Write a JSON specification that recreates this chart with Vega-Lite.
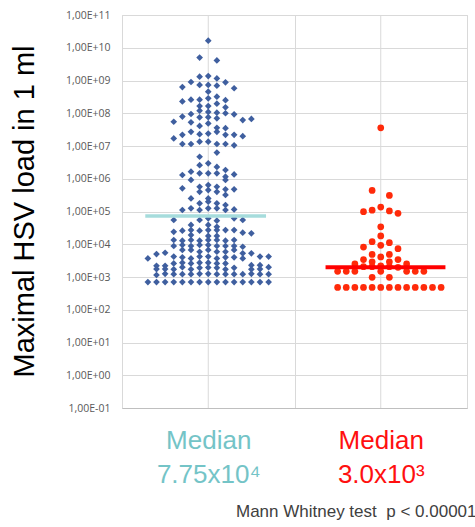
{
  "$schema": "https://vega.github.io/schema/vega-lite/v6.json",
  "autosize": "none",
  "width": 345,
  "height": 393,
  "padding": {"left": 122, "top": 15, "right": 8, "bottom": 119},
  "background": "white",
  "config": {"view": {"stroke": "#d9d9d9"}},
  "datasets": {
    "pts": [
      {"g":"A","s":0,"v":1.64e10},
      {"g":"A","s":-1,"v":5.0e9},{"g":"A","s":1,"v":4.1e9},
      {"g":"A","s":-1,"v":1.31e9},{"g":"A","s":0,"v":1.37e9},{"g":"A","s":1,"v":1.16e9},
      {"g":"A","s":-2,"v":9.0e8},{"g":"A","s":2,"v":8.8e8},
      {"g":"A","s":-3,"v":6.3e8},{"g":"A","s":-1,"v":7.3e8},{"g":"A","s":0,"v":7.3e8},{"g":"A","s":1,"v":6.95e8},{"g":"A","s":3,"v":5.8e8},
      {"g":"A","s":0,"v":4.56e8},
      {"g":"A","s":0,"v":2.86e8},{"g":"A","s":1,"v":3.2e8},
      {"g":"A","s":-3,"v":2.3e8},{"g":"A","s":-2,"v":2.6e8},{"g":"A","s":-1,"v":2.6e8},{"g":"A","s":2,"v":2.5e8},
      {"g":"A","s":-1,"v":1.66e8},{"g":"A","s":0,"v":1.66e8},{"g":"A","s":1,"v":1.96e8},{"g":"A","s":2,"v":1.52e8},
      {"g":"A","s":-2,"v":9.5e7},{"g":"A","s":-1,"v":1.2e8},{"g":"A","s":0,"v":1.1e8},{"g":"A","s":1,"v":1.04e8},{"g":"A","s":2,"v":1.0e8},{"g":"A","s":3,"v":9.3e7},
      {"g":"A","s":-4,"v":5.5e7},{"g":"A","s":-3,"v":7.9e7},{"g":"A","s":-1,"v":7.5e7},{"g":"A","s":0,"v":7.6e7},{"g":"A","s":1,"v":7.0e7},{"g":"A","s":4,"v":6.2e7},{"g":"A","s":5,"v":6.7e7},
      {"g":"A","s":-2,"v":5.3e7},{"g":"A","s":-1,"v":4.1e7},{"g":"A","s":0,"v":4.9e7},{"g":"A","s":1,"v":3.6e7},{"g":"A","s":2,"v":3.5e7},
      {"g":"A","s":-4,"v":1.7e7},{"g":"A","s":-3,"v":2.2e7},{"g":"A","s":-2,"v":2.7e7},{"g":"A","s":-1,"v":2.3e7},{"g":"A","s":0,"v":2.4e7},{"g":"A","s":1,"v":2.7e7},{"g":"A","s":2,"v":2.2e7},{"g":"A","s":3,"v":2.2e7},{"g":"A","s":4,"v":2.0e7},
      {"g":"A","s":-3,"v":1.15e7},{"g":"A","s":-2,"v":1.15e7},{"g":"A","s":-1,"v":1.36e7},{"g":"A","s":0,"v":1.36e7},{"g":"A","s":1,"v":1.15e7},{"g":"A","s":2,"v":1.15e7},{"g":"A","s":3,"v":1.05e7},
      {"g":"A","s":-1,"v":4.7e6},{"g":"A","s":1,"v":6.3e6},
      {"g":"A","s":-1,"v":2.6e6},{"g":"A","s":0,"v":2.96e6},{"g":"A","s":1,"v":2.3e6},{"g":"A","s":2,"v":1.85e6},
      {"g":"A","s":-3,"v":1.3e6},{"g":"A","s":-2,"v":1.64e6},{"g":"A","s":-1,"v":1.46e6},{"g":"A","s":0,"v":1.46e6},{"g":"A","s":1,"v":1.46e6},{"g":"A","s":2,"v":1.16e6},{"g":"A","s":3,"v":1.36e6},
      {"g":"A","s":-2,"v":9.2e5},{"g":"A","s":2,"v":9.2e5},
      {"g":"A","s":-3,"v":5.1e5},{"g":"A","s":-1,"v":5.7e5},{"g":"A","s":-1,"v":4.0e5},{"g":"A","s":0,"v":6.4e5},{"g":"A","s":0,"v":4.5e5},{"g":"A","s":1,"v":5.7e5},{"g":"A","s":1,"v":4.0e5},{"g":"A","s":2,"v":4.75e5},{"g":"A","s":3,"v":4.75e5},
      {"g":"A","s":2,"v":3.2e5},
      {"g":"A","s":-2,"v":2.5e5},{"g":"A","s":0,"v":2.5e5},
      {"g":"A","s":-1,"v":1.78e5},{"g":"A","s":0,"v":2.0e5},{"g":"A","s":1,"v":1.78e5},{"g":"A","s":2,"v":1.58e5},
      {"g":"A","s":-3,"v":1.11e5},{"g":"A","s":-2,"v":1.25e5},{"g":"A","s":-1,"v":1.11e5},{"g":"A","s":0,"v":1.25e5},{"g":"A","s":1,"v":1.25e5},{"g":"A","s":2,"v":1.11e5},{"g":"A","s":3,"v":1.16e5},
      {"g":"A","s":-4,"v":5.5e4},{"g":"A","s":-1,"v":5.5e4},{"g":"A","s":0,"v":6.2e4},{"g":"A","s":1,"v":5.25e4},{"g":"A","s":3,"v":6.2e4},{"g":"A","s":4,"v":5.5e4},
      {"g":"A","s":-2,"v":3.9e4},{"g":"A","s":0,"v":3.9e4},{"g":"A","s":1,"v":3.4e4},
      {"g":"A","s":-4,"v":2.4e4},{"g":"A","s":-3,"v":2.6e4},{"g":"A","s":-2,"v":2.7e4},{"g":"A","s":-1,"v":2.6e4},{"g":"A","s":0,"v":2.7e4},{"g":"A","s":1,"v":2.7e4},{"g":"A","s":2,"v":2.7e4},{"g":"A","s":3,"v":2.7e4},{"g":"A","s":4,"v":2.26e4},{"g":"A","s":5,"v":2.15e4},
      {"g":"A","s":-2,"v":1.9e4},{"g":"A","s":0,"v":1.79e4},{"g":"A","s":1,"v":1.79e4},
      {"g":"A","s":-4,"v":1.35e4},{"g":"A","s":-3,"v":1.29e4},{"g":"A","s":-2,"v":1.35e4},{"g":"A","s":-1,"v":1.29e4},{"g":"A","s":0,"v":1.35e4},{"g":"A","s":1,"v":1.35e4},{"g":"A","s":2,"v":1.29e4},{"g":"A","s":3,"v":1.35e4},
      {"g":"A","s":-4,"v":8.85e3},{"g":"A","s":-3,"v":9.5e3},{"g":"A","s":-2,"v":8.85e3},{"g":"A","s":-1,"v":9.5e3},{"g":"A","s":0,"v":9.5e3},{"g":"A","s":1,"v":8.85e3},{"g":"A","s":2,"v":8.85e3},{"g":"A","s":3,"v":8.85e3},{"g":"A","s":4,"v":8.4e3},
      {"g":"A","s":-6,"v":5.0e3},{"g":"A","s":-5,"v":5.5e3},{"g":"A","s":-3,"v":6.7e3},{"g":"A","s":-2,"v":6.7e3},{"g":"A","s":-1,"v":5.9e3},{"g":"A","s":0,"v":6.7e3},{"g":"A","s":1,"v":5.9e3},{"g":"A","s":2,"v":5.9e3},{"g":"A","s":3,"v":6.7e3},{"g":"A","s":4,"v":5.3e3},{"g":"A","s":5,"v":5.3e3},
      {"g":"A","s":-7,"v":3.7e3},{"g":"A","s":-4,"v":4.2e3},{"g":"A","s":-3,"v":4.0e3},{"g":"A","s":-2,"v":3.7e3},{"g":"A","s":-1,"v":4.2e3},{"g":"A","s":0,"v":4.2e3},{"g":"A","s":1,"v":3.7e3},{"g":"A","s":2,"v":4.0e3},{"g":"A","s":3,"v":4.0e3},{"g":"A","s":4,"v":3.7e3},{"g":"A","s":6,"v":4.2e3},{"g":"A","s":7,"v":4.2e3},
      {"g":"A","s":-6,"v":2.2e3},{"g":"A","s":-5,"v":2.2e3},{"g":"A","s":-4,"v":2.6e3},{"g":"A","s":-3,"v":2.74e3},{"g":"A","s":-2,"v":2.6e3},{"g":"A","s":-1,"v":2.74e3},{"g":"A","s":0,"v":2.74e3},{"g":"A","s":1,"v":2.6e3},{"g":"A","s":2,"v":2.6e3},{"g":"A","s":5,"v":2.3e3},{"g":"A","s":6,"v":2.3e3},
      {"g":"A","s":-6,"v":1.75e3},{"g":"A","s":-5,"v":1.75e3},{"g":"A","s":-4,"v":1.71e3},{"g":"A","s":-3,"v":2.0e3},{"g":"A","s":-2,"v":1.71e3},{"g":"A","s":-1,"v":1.9e3},{"g":"A","s":0,"v":1.95e3},{"g":"A","s":1,"v":1.9e3},{"g":"A","s":2,"v":1.71e3},{"g":"A","s":3,"v":1.9e3},{"g":"A","s":5,"v":1.71e3},{"g":"A","s":6,"v":1.75e3},{"g":"A","s":7,"v":2.0e3},
      {"g":"A","s":-6,"v":1.15e3},{"g":"A","s":-5,"v":1.25e3},{"g":"A","s":-4,"v":1.22e3},{"g":"A","s":-3,"v":1.22e3},{"g":"A","s":-2,"v":1.22e3},{"g":"A","s":-1,"v":1.25e3},{"g":"A","s":0,"v":1.25e3},{"g":"A","s":1,"v":1.22e3},{"g":"A","s":2,"v":1.22e3},{"g":"A","s":3,"v":1.22e3},{"g":"A","s":4,"v":1.22e3},{"g":"A","s":5,"v":1.25e3},{"g":"A","s":6,"v":1.22e3},{"g":"A","s":7,"v":1.22e3},
      {"g":"A","s":-7,"v":700},{"g":"A","s":-6,"v":700},{"g":"A","s":-5,"v":700},{"g":"A","s":-4,"v":700},{"g":"A","s":-3,"v":700},{"g":"A","s":-2,"v":700},{"g":"A","s":-1,"v":700},{"g":"A","s":0,"v":700},{"g":"A","s":1,"v":700},{"g":"A","s":2,"v":700},{"g":"A","s":3,"v":700},{"g":"A","s":4,"v":700},{"g":"A","s":5,"v":700},{"g":"A","s":6,"v":700},{"g":"A","s":7,"v":700},
      {"g":"B","s":0,"v":3.6e7},
      {"g":"B","s":-1,"v":4.4e5},{"g":"B","s":1,"v":3.1e5},
      {"g":"B","s":-2,"v":9.9e4},{"g":"B","s":-1,"v":1.1e5},{"g":"B","s":0,"v":1.37e5},{"g":"B","s":1,"v":1.04e5},{"g":"B","s":2,"v":8.8e4},
      {"g":"B","s":0,"v":3.4e4},
      {"g":"B","s":0,"v":1.8e4},
      {"g":"B","s":-1,"v":1.2e4},{"g":"B","s":1,"v":1.12e4},
      {"g":"B","s":-2,"v":8.2e3},{"g":"B","s":0,"v":9.3e3},{"g":"B","s":2,"v":7.3e3},
      {"g":"B","s":-1,"v":4.9e3},{"g":"B","s":1,"v":4.9e3},
      {"g":"B","s":-2,"v":3.4e3},{"g":"B","s":0,"v":4.1e3},{"g":"B","s":2,"v":3.4e3},
      {"g":"B","s":-3,"v":2.5e3},{"g":"B","s":-1,"v":2.9e3},{"g":"B","s":1,"v":2.9e3},{"g":"B","s":3,"v":2.5e3},
      {"g":"B","s":-2,"v":2.07e3},{"g":"B","s":-1,"v":2.07e3},{"g":"B","s":0,"v":2.2e3},{"g":"B","s":1,"v":2.07e3},{"g":"B","s":2,"v":1.97e3},
      {"g":"B","s":-5,"v":1.49e3},{"g":"B","s":-4,"v":1.49e3},{"g":"B","s":-3,"v":1.49e3},{"g":"B","s":0,"v":1.49e3},{"g":"B","s":3,"v":1.49e3},{"g":"B","s":4,"v":1.49e3},{"g":"B","s":5,"v":1.49e3},
      {"g":"B","s":-1,"v":980},{"g":"B","s":1,"v":980},
      {"g":"B","s":-5,"v":480},{"g":"B","s":-4,"v":480},{"g":"B","s":-3,"v":480},{"g":"B","s":-2,"v":480},{"g":"B","s":-1,"v":480},{"g":"B","s":0,"v":480},{"g":"B","s":1,"v":480},{"g":"B","s":2,"v":480},{"g":"B","s":3,"v":480},{"g":"B","s":4,"v":480},{"g":"B","s":5,"v":480},{"g":"B","s":6,"v":480},{"g":"B","s":7,"v":480}
    ]
  },
  "encoding": {
    "x": {
      "field": "g",
      "type": "nominal",
      "scale": {"domain": ["A", "B"], "paddingInner": 0, "paddingOuter": 0},
      "axis": {
        "grid": true,
        "tickBand": "extent",
        "gridColor": "#d9d9d9",
        "ticks": false,
        "domainColor": "#bfbfbf",
        "labelAngle": 0,
        "labelExpr": "datum.value == 'A' ? ['Median', '7.75x10⁴'] : (datum.value == 'B' ? ['Median', '3.0x10³'] : '')",
        "labelColor": {"condition": {"test": "datum.value == 'A'", "value": "#74c4c7"}, "value": "#ff1010"},
        "labelFont": "Liberation Sans",
        "labelFontSize": 26,
        "labelLineHeight": 34,
        "labelBaseline": "top",
        "labelPadding": 19,
        "title": "Mann Whitney test\u00a0 p < 0.00001",
        "titleFont": "Liberation Sans",
        "titleFontSize": 17,
        "titleFontWeight": "normal",
        "titleColor": "#404040",
        "titleX": 354,
        "titleY": 108,
        "titleAlign": "right",
        "titleBaseline": "alphabetic"
      }
    },
    "y": {
      "field": "v",
      "type": "quantitative",
      "scale": {"type": "log", "domain": [0.1, 100000000000], "nice": false},
      "axis": {
        "values": [0.1, 1, 10, 100, 1000, 10000, 100000, 1000000, 10000000, 100000000, 1000000000, 10000000000, 100000000000],
        "labelExpr": "'1,00E' + (datum.value >= 1 ? '+' : '-') + (abs(round(log(datum.value) / LN10)) < 10 ? '0' : '') + abs(round(log(datum.value) / LN10))",
        "grid": true,
        "gridColor": "#d9d9d9",
        "domain": false,
        "ticks": false,
        "labelPadding": 12,
        "labelFont": "Open Sans",
        "labelFontSize": 10.5,
        "labelColor": "#595959",
        "labelFlush": false,
        "labelOverlap": false,
        "title": "Maximal HSV load in 1 ml",
        "titleFont": "Liberation Sans",
        "titleFontSize": 29,
        "titleFontWeight": "normal",
        "titleColor": "#000000",
        "titleAngle": -90,
        "titleX": -89,
        "titleY": 196,
        "titleAlign": "center",
        "titleBaseline": "alphabetic"
      }
    }
  },
  "layer": [
    {
      "data": {"values": [{"g": "A"}, {"g": "B"}]},
      "mark": {"type": "rule", "color": "#d9d9d9", "strokeWidth": 1},
      "encoding": {"x": {"field": "g", "type": "nominal"}, "y": null}
    },
    {
      "data": {"name": "pts"},
      "mark": {"type": "point", "filled": true, "opacity": 1, "size": 45},
      "encoding": {
        "xOffset": {"field": "s", "type": "quantitative", "scale": {"domain": [-10, 10]}},
        "shape": {"field": "g", "type": "nominal", "scale": {"domain": ["A", "B"], "range": ["diamond", "circle"]}, "legend": null},
        "color": {"field": "g", "type": "nominal", "scale": {"domain": ["A", "B"], "range": ["#3f5f9f", "#ff2a0a"]}, "legend": null}
      }
    },
    {
      "data": {"values": [{"g": "A", "s": -7.3, "v": 73000}, {"g": "A", "s": 6.7, "v": 73000}]},
      "mark": {"type": "line", "color": "#a6dcdc", "strokeWidth": 3.5},
      "encoding": {
        "xOffset": {"field": "s", "type": "quantitative", "scale": {"domain": [-10, 10]}}
      }
    },
    {
      "data": {"values": [{"g": "B", "s": -6.4, "v": 2000}, {"g": "B", "s": 7.5, "v": 2000}]},
      "mark": {"type": "line", "color": "#ff0000", "strokeWidth": 4},
      "encoding": {
        "xOffset": {"field": "s", "type": "quantitative", "scale": {"domain": [-10, 10]}}
      }
    }
  ]
}
